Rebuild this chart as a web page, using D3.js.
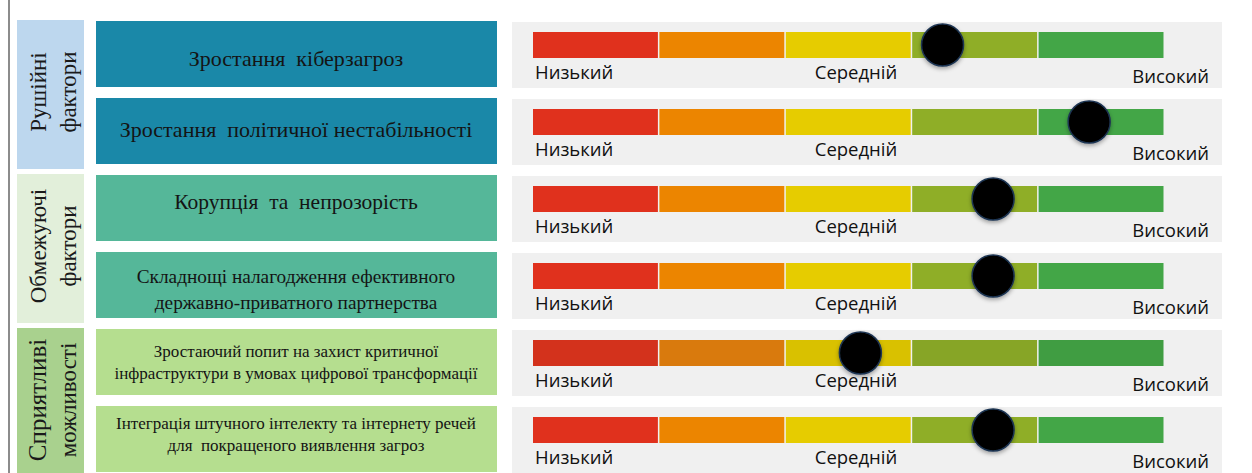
<!DOCTYPE html>
<html>
<head>
<meta charset="utf-8">
<script src="https://cdn.jsdelivr.net/npm/d3@7/dist/d3.min.js"></script>
<style>
  body { margin: 0; background: #fff; }
  svg { display: block; }
</style>
</head>
<body>
<script>
// ---- data ----
var groupLines = [["Рушійні", "фактори"], ["Обмежуючі", "фактори"], ["Сприятливі", "можливості"]];
var factorLines = [
  ["Зростання  кіберзагроз"],
  ["Зростання  політичної нестабільності"],
  ["Корупція  та  непрозорість"],
  ["Складнощі налагодження ефективного", "державно-приватного партнерства"],
  ["Зростаючий попит на захист критичної", "інфраструктури в умовах цифрової трансформації"],
  ["Інтеграція штучного інтелекту та інтернету речей", "для  покращеного виявлення загроз"]
];
var factorGroup = [0, 0, 1, 1, 2, 2];
var scores = [3.24, 4.40, 3.64, 3.64, 2.59, 3.64];   // position of the marker on a 0..5 scale
var segments = [0, 1, 2, 3, 4];
var levelLabels = ["Низький", "Середній", "Високий"];
var levelPos = [0, 2.5, 5];

// ---- styles ----
var groupFill = ["#bdd7ee", "#e2efda", "#a9d18e"];
var factorFill = ["#1a88a8", "#55b799", "#b5de8f"];
var segFill = ["#e0311d", "#ec8500", "#e6cc00", "#8fae27", "#43a647"];
var segFillDim = ["#d3301d", "#d97a0a", "#d9c100", "#87a526", "#3f9d43"];
var itemFont = [22, 22, 21.5, 19.3, 17, 17];
var itemTextY = [[37], [31], [26], [24, 50], [22, 44], [17, 39]]; // line centres from row top

var w = 1252, h = 473;

var svg = d3.select("body").append("svg")
    .attr("width", w)
    .attr("height", h);

var defs = svg.append("defs");
var sh = defs.append("filter").attr("id", "shadow")
    .attr("x", "-40%").attr("y", "-40%").attr("width", "180%").attr("height", "180%");
sh.append("feDropShadow").attr("dx", 0).attr("dy", 2).attr("stdDeviation", 2)
    .attr("flood-color", "#000").attr("flood-opacity", 0.35);
var blur = defs.append("filter").attr("id", "soft")
    .attr("x", "-5%").attr("y", "-40%").attr("width", "115%").attr("height", "180%");
blur.append("feGaussianBlur").attr("stdDeviation", 0.5);

// rows
var y = d3.scaleBand()
    .domain(d3.range(factorLines.length))
    .range([21, 472])
    .paddingInner(11 / 77)
    .paddingOuter(0);

var x = d3.scaleLinear()
    .domain([0, 5])
    .range([533, 1165]);

// left rule
svg.append("line")
    .attr("x1", 9).attr("x2", 9)
    .attr("y1", 0).attr("y2", h)
    .attr("stroke", "#8c8c8c")
    .attr("stroke-width", 2);

// group boxes
var groupIdx = d3.range(groupLines.length);
var gbox = svg.selectAll("g.group")
    .data(groupIdx)
    .enter().append("g")
    .attr("class", "group");

function groupRows(g) {
  return factorGroup.map(function(d, i) { return d === g ? i : -1; }).filter(function(i) { return i >= 0; });
}
function groupTop(g) { return y(groupRows(g)[0]) - 1; }
function groupBottom(g) {
  var r = groupRows(g);
  return y(r[r.length - 1]) + y.bandwidth();
}

gbox.append("rect")
    .attr("x", 17)
    .attr("y", function(d) { return groupTop(d); })
    .attr("width", 67)
    .attr("height", function(d) { return groupBottom(d) - groupTop(d) + 5; })
    .attr("fill", function(d) { return groupFill[d]; });

gbox.each(function(g) {
  var cy = (groupTop(g) + groupBottom(g)) / 2;
  var sel = d3.select(this);
  groupLines[g].forEach(function(line, k) {
    var bx = k === 0 ? 46 : 76;
    sel.append("text")
        .attr("transform", "translate(" + bx + "," + cy + ") rotate(-90)")
        .attr("text-anchor", "middle")
        .attr("font-family", "'Liberation Serif', 'Times New Roman', serif")
        .attr("font-size", (g === 2 && k === 0) ? 25 : 23)
        .attr("fill", "#1a1a1a")
        .text(line);
  });
});

// factor boxes
var rows = svg.selectAll("g.row")
    .data(d3.range(factorLines.length))
    .enter().append("g")
    .attr("class", "row");

rows.append("rect")
    .attr("x", 96)
    .attr("y", function(i) { return y(i); })
    .attr("width", 401)
    .attr("height", y.bandwidth())
    .attr("fill", function(i) { return factorFill[factorGroup[i]]; });

rows.each(function(i) {
  var sel = d3.select(this);
  factorLines[i].forEach(function(line, k) {
    sel.append("text")
        .attr("x", 296)
        .attr("y", y(i) + itemTextY[i][k])
        .attr("dy", "0.35em")
        .attr("text-anchor", "middle")
        .attr("font-family", "'Liberation Serif', 'Times New Roman', serif")
        .attr("font-size", itemFont[i])
        .attr("fill", "#141414")
        .style("white-space", "pre")
        .text(line);
  });
});

// gauge panels
rows.append("rect")
    .attr("x", 512)
    .attr("y", function(i) { return y(i) + 1; })
    .attr("width", 710)
    .attr("height", y.bandwidth())
    .attr("fill", "#f0f0f0");

var barH = 26;
rows.each(function(i) {
  var sel = d3.select(this);
  var top = y(i) + 11;
  var bar = sel.append("g");
  var fills = i === 4 ? segFillDim : segFill;
  if (i === 4) bar.attr("filter", "url(#soft)");
  bar.selectAll("rect")
      .data(segments)
      .enter().append("rect")
      .attr("x", function(s) { return x(s); })
      .attr("y", top)
      .attr("width", function(s) { return x(s + 1) - x(s) - 1.5; })
      .attr("height", barH)
      .attr("fill", function(s) { return fills[s]; });

  sel.selectAll("text.lvl")
      .data(levelLabels)
      .enter().append("text")
      .attr("class", "lvl")
      .attr("x", function(d, k) { return k === 2 ? x(levelPos[k]) + 44 : (k === 1 ? x(levelPos[k]) + 7 : x(levelPos[k]) + 2); })
      .attr("y", function(d, k) { return y(i) + (k === 2 ? 62 : 58); })
      .attr("text-anchor", function(d, k) { return k === 0 ? "start" : (k === 1 ? "middle" : "end"); })
      .attr("font-family", "'Open Sans', 'Noto Sans', sans-serif")
      .attr("font-size", 18.5)
      .attr("fill", "#111")
      .text(function(d) { return d; });

  sel.append("circle")
      .attr("cx", x(scores[i]))
      .attr("cy", top + barH / 2)
      .attr("r", 21)
      .attr("fill", "#000")
      .attr("stroke", "#1d3452")
      .attr("stroke-width", 1.5)
      .attr("filter", "url(#shadow)");
});
</script>
</body>
</html>
